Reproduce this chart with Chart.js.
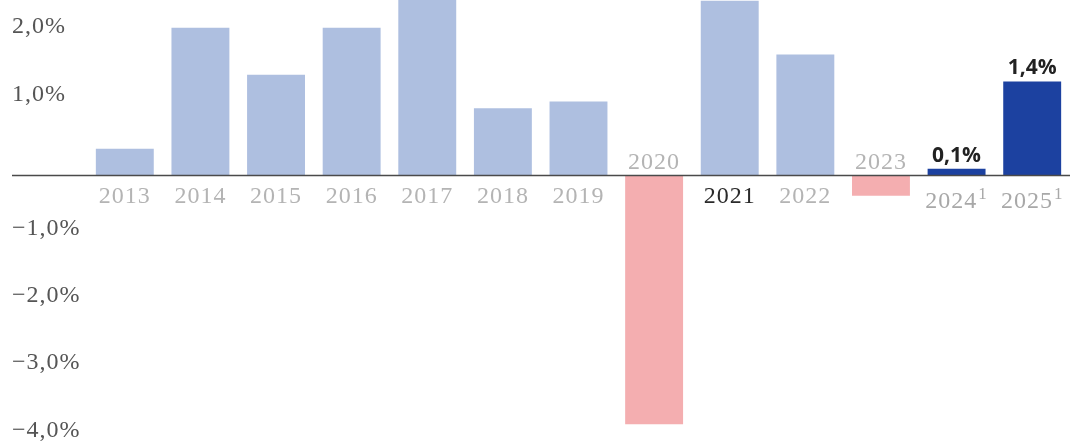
<!DOCTYPE html>
<html>
<head>
<meta charset="utf-8">
<script src="https://cdn.jsdelivr.net/npm/chart.js@4/dist/chart.umd.min.js"></script>
<style>
  html, body { margin: 0; padding: 0; background: #ffffff; }
  #wrap { width: 1070px; height: 441px; position: relative; }
</style>
</head>
<body>
<div id="wrap"><canvas id="c" width="1070" height="441"></canvas></div>
<script>
const categories = ['2013','2014','2015','2016','2017','2018','2019','2020','2021','2022','2023','2024','2025'];
const footnotes  = ['','','','','','','','','','','','1','1'];
const growth     = [0.4, 2.2, 1.5, 2.2, 2.7, 1.0, 1.1, -3.7, 2.6, 1.8, -0.3, 0.1, 1.4];
const forecast   = [false,false,false,false,false,false,false,false,false,false,false,true,true];
const highlightedLabel = ['','','','','','','','','','','','0,1%','1,4%'];
const darkYear   = '2021';
const yTickValues = [2, 1, -1, -2, -3, -4];
const yTickLabels = ['2,0%', '1,0%', '\u22121,0%', '\u22122,0%', '\u22123,0%', '\u22124,0%'];

const COL_POS = '#aebfe0';
const COL_NEG = '#f4aeb0';
const COL_FC  = '#1c41a0';

const barColors = growth.map((v, i) => forecast[i] ? COL_FC : (v < 0 ? COL_NEG : COL_POS));

const SERIF = '"Liberation Serif", "Times New Roman", serif';
const SANS  = '"Open Sans", "Noto Sans", sans-serif';

const overlay = {
  id: 'overlay',
  afterDatasetsDraw(chart) {
    const ctx = chart.ctx;
    const x = chart.scales.x, y = chart.scales.y;
    const y0 = y.getPixelForValue(0);
    ctx.save();
    // baseline
    ctx.strokeStyle = '#4a4a4a';
    ctx.lineWidth = 1.6;
    ctx.beginPath();
    ctx.moveTo(12, y0);
    ctx.lineTo(chart.width, y0);
    ctx.stroke();

    // y tick labels (sit above their value level)
    ctx.letterSpacing = '1px';
    ctx.font = '24px ' + SERIF;
    ctx.fillStyle = '#555555';
    ctx.textAlign = 'left';
    ctx.textBaseline = 'middle';
    yTickValues.forEach((v, i) => {
      ctx.fillText(yTickLabels[i], 12, y.getPixelForValue(v) - 14);
    });

    // category labels
    categories.forEach((c, i) => {
      const cx = x.getPixelForValue(i);
      const v = growth[i];
      let ly = v < 0 ? y0 - 13 : y0 + 21;
      if (footnotes[i]) ly += 5;
      ctx.letterSpacing = '1px';
      ctx.font = '24px ' + SERIF;
      ctx.fillStyle = c === darkYear ? '#2a2a2a' : (forecast[i] ? '#a8a8a8' : '#b4b4b4');
      ctx.textBaseline = 'middle';
      const w = ctx.measureText(c).width;
      let sw = 0;
      if (footnotes[i]) {
        ctx.font = '17px ' + SERIF;
        sw = ctx.measureText(footnotes[i]).width + 1;
      }
      const total = w + sw;
      ctx.font = '24px ' + SERIF;
      ctx.textAlign = 'left';
      ctx.fillText(c, cx - total / 2, ly);
      if (footnotes[i]) {
        ctx.font = '17px ' + SERIF;
        ctx.fillText(footnotes[i], cx - total / 2 + w + 1, ly - 7);
      }
      // value labels for highlighted bars
      if (highlightedLabel[i]) {
        ctx.letterSpacing = '0px';
        ctx.font = 'bold 21px ' + SANS;
        ctx.fillStyle = '#222222';
        ctx.textAlign = 'center';
        ctx.textBaseline = 'alphabetic';
        ctx.fillText(highlightedLabel[i], cx, y.getPixelForValue(v) - 7);
      }
    });
    ctx.restore();
  }
};

new Chart(document.getElementById('c'), {
  type: 'bar',
  data: {
    labels: categories,
    datasets: [{
      data: growth,
      backgroundColor: barColors,
      borderWidth: 0,
      barPercentage: 0.766,
      categoryPercentage: 1.0
    }]
  },
  options: {
    responsive: false,
    animation: false,
    devicePixelRatio: 1,
    layout: { padding: { left: 87, right: 0, top: 0, bottom: 0 } },
    plugins: { legend: { display: false }, tooltip: { enabled: false } },
    scales: {
      x: { display: false, offset: true },
      y: { display: false, min: -3.951, max: 2.612 }
    }
  },
  plugins: [overlay]
});
</script>
</body>
</html>
